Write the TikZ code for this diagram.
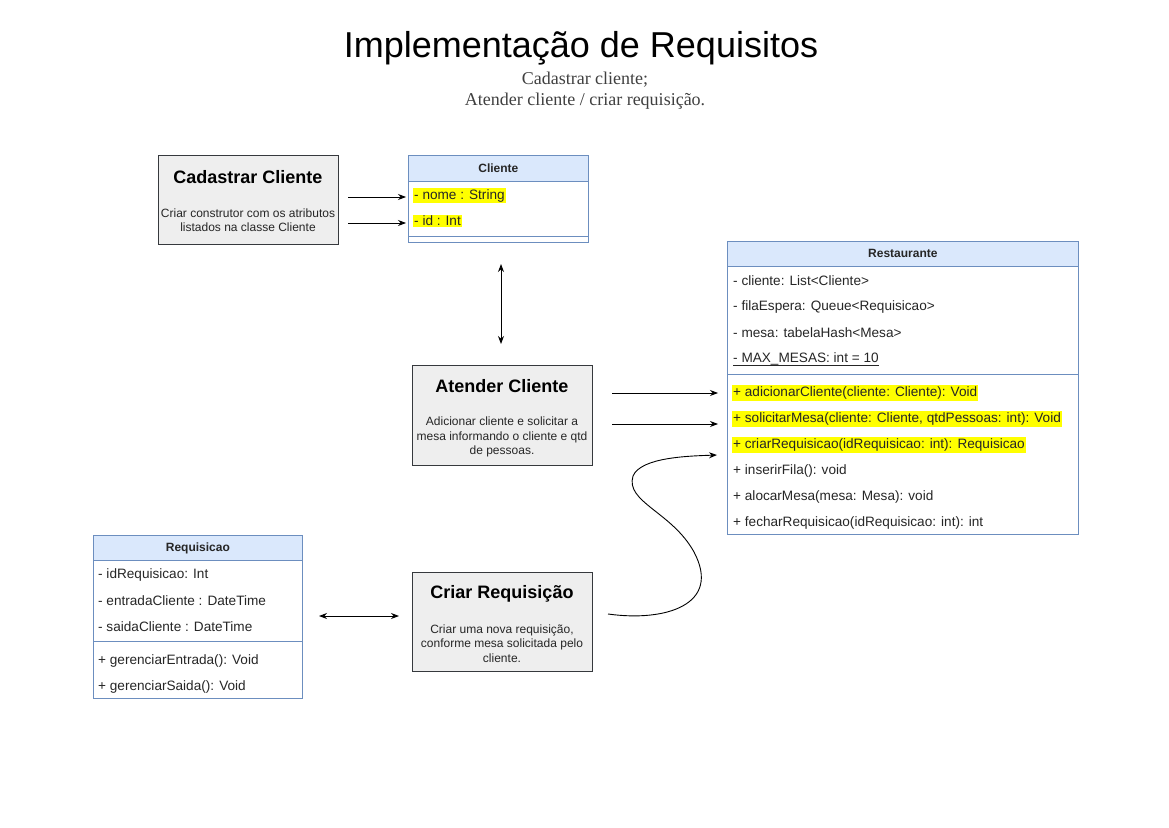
\documentclass[tikz,border=0pt]{standalone}
\usepackage{fontspec}
\setmainfont{Liberation Sans}
\newfontfamily\serifx{Liberation Serif}
\usetikzlibrary{arrows.meta}
\definecolor{boxfill}{HTML}{EEEEEE}
\definecolor{boxline}{HTML}{36393D}
\definecolor{hdrfill}{HTML}{DAE8FC}
\definecolor{hdrline}{HTML}{6C8EBF}
\definecolor{hlcol}{HTML}{FFFF00}
\definecolor{subcol}{HTML}{404040}
\begin{document}
\begin{tikzpicture}[x=1pt,y=-1pt,
  procbox/.style={draw=boxline, fill=boxfill, line width=1pt, anchor=north west, inner sep=0pt},
  ptitle/.style={font=\fontsize{18}{21}\selectfont\bfseries, inner sep=0pt},
  pdesc/.style={font=\fontsize{12}{14.5}\selectfont, align=center, inner sep=0pt, text=black!85},
  hdr/.style={draw=hdrline, fill=hdrfill, line width=0.8pt, anchor=north west, inner sep=0pt, font=\fontsize{12}{14}\selectfont\bfseries, text=black!85},
  body/.style={draw=hdrline, fill=white, line width=0.8pt, anchor=north west, inner sep=0pt},
  row/.style={anchor=west, inner sep=1pt, font=\fontsize{13.6}{16}\selectfont, text=black!85},
  hlrow/.style={row, fill=hlcol, inner ysep=1.5pt},
  arr/.style={-{Stealth[length=8pt,width=6pt]}, line width=0.9pt},
  darr/.style={{Stealth[length=8pt,width=6pt]}-{Stealth[length=8pt,width=6pt]}, line width=0.9pt}
]
\useasboundingbox[fill=white] (0,0) rectangle (1169,827);

% Title
\node[font=\fontsize{36}{42}\selectfont, inner sep=0pt] (title) at (581,48) {Implementação de Requisitos};
\node[font=\serifx\fontsize{18}{21}\selectfont, align=center, text=subcol, inner sep=0pt] (subtitle) at (585,91) {Cadastrar cliente;\\Atender cliente / criar requisição.};

% Cadastrar Cliente
\node[procbox, minimum width=180pt, minimum height=89pt] (cad) at (158,155) {};
\node[ptitle] (cadT) at (248,177) {Cadastrar Cliente};
\node[pdesc] (cadD) at (248,220) {Criar construtor com os atributos\\listados na classe Cliente};

% Cliente class
\node[hdr, minimum width=180pt, minimum height=26pt] (cliH) at (408,155) {Cliente};
\node[body, minimum width=180pt, minimum height=61pt] (cliB) at (408,181) {};
\draw[hdrline, line width=0.8pt] (cliB.west |- 0,236) -- (cliB.east |- 0,236);
\node[hlrow] (nome) at (413,195.5) {- nome : String};
\node[hlrow] (idc) at (413,221) {- id : Int};

% Arrows Cadastrar -> Cliente
\coordinate (c1s) at (348,197);
\coordinate (c1e) at (406,197);
\coordinate (c2s) at (348,223);
\coordinate (c2e) at (406,223);
\draw[arr] (c1s) -- (c1e);
\draw[arr] (c2s) -- (c2e);

% Vertical double arrow
\coordinate (v1) at (501,264);
\coordinate (v2) at (501,344);
\draw[darr] (v1) -- (v2);

% Atender Cliente
\node[procbox, minimum width=180pt, minimum height=100pt] (atd) at (412,365) {};
\node[ptitle] (atdT) at (502,386) {Atender Cliente};
\node[pdesc] (atdD) at (502,437) {Adicionar cliente e solicitar a\\mesa informando o cliente e qtd\\de pessoas.};

% Restaurante class
\node[hdr, minimum width=351pt, minimum height=25pt] (resH) at (727,241) {Restaurante};
\node[body, minimum width=351pt, minimum height=268pt] (resB) at (727,266) {};
\draw[hdrline, line width=0.8pt] (resB.west |- 0,374) -- (resB.east |- 0,374);
\node[row] (r1) at (732,281) {- cliente: List<Cliente>};
\node[row] (r2) at (732,307) {- filaEspera: Queue<Requisicao>};
\node[row] (r3) at (732,333) {- mesa: tabelaHash<Mesa>};
\node[row] (r4) at (732,359) {- MAX\_MESAS: int = 10};
\draw[line width=0.8pt, black!85] ([xshift=1pt,yshift=-6.5pt]r4.west) -- ([xshift=-1pt,yshift=-6.5pt]r4.east);
\node[hlrow] (addC) at (732,393) {+ adicionarCliente(cliente: Cliente): Void};
\node[hlrow] (solM) at (732,419) {+ solicitarMesa(cliente: Cliente, qtdPessoas: int): Void};
\node[hlrow] (criR) at (732,445) {+ criarRequisicao(idRequisicao: int): Requisicao};
\node[row] (insF) at (732,471) {+ inserirFila(): void};
\node[row] (aloM) at (732,497) {+ alocarMesa(mesa: Mesa): void};
\node[row] (fecR) at (732,523) {+ fecharRequisicao(idRequisicao: int): int};

% Arrows Atender -> Restaurante
\coordinate (a1s) at (612,393);
\coordinate (a1e) at (718,393);
\coordinate (a2s) at (612,424);
\coordinate (a2e) at (718,424);
\draw[arr] (a1s) -- (a1e);
\draw[arr] (a2s) -- (a2e);

% Requisicao class
\node[hdr, minimum width=209pt, minimum height=25pt] (reqH) at (93,535) {Requisicao};
\node[body, minimum width=209pt, minimum height=138pt] (reqB) at (93,560) {};
\draw[hdrline, line width=0.8pt] (reqB.west |- 0,641) -- (reqB.east |- 0,641);
\node[row] (q1) at (97,575) {- idRequisicao: Int};
\node[row] (q2) at (97,601) {- entradaCliente : DateTime};
\node[row] (q3) at (97,627) {- saidaCliente : DateTime};
\node[row] (q4) at (97,661) {+ gerenciarEntrada(): Void};
\node[row] (q5) at (97,687) {+ gerenciarSaida(): Void};

% Criar Requisicao
\node[procbox, minimum width=180pt, minimum height=99pt] (crq) at (412,572) {};
\node[ptitle] (crqT) at (502,594) {Criar Requisição};
\node[pdesc] (crqD) at (502,643.5) {Criar uma nova requisição,\\conforme mesa solicitada pelo\\cliente.};

% Double arrow Requisicao <-> Criar
\coordinate (d1) at (319,616);
\coordinate (d2) at (399,616);
\draw[darr] (d1) -- (d2);

% Curve Criar -> criarRequisicao
\coordinate (cs) at (608,614);
\coordinate (ce) at (717,455);
\draw[arr] (cs) .. controls (665,622) and (722,605) .. (694,552)
  .. controls (672,512) and (625,502) .. (633,476)
  .. controls (641,457) and (690,456) .. (ce);
\end{tikzpicture}
\end{document}
